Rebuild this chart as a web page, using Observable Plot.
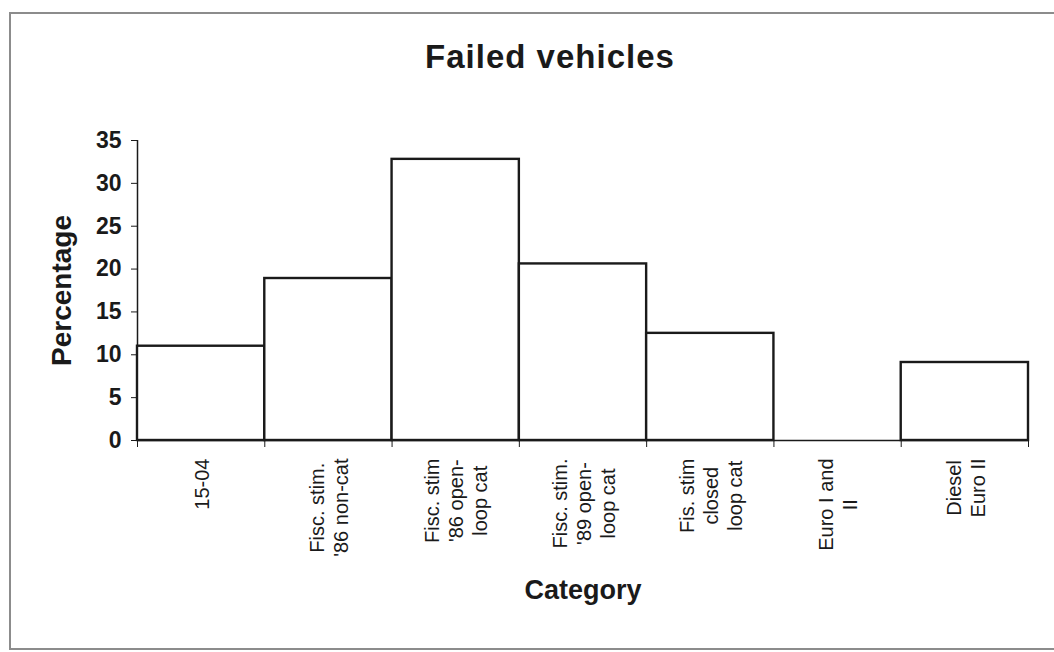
<!DOCTYPE html>
<html>
<head>
<meta charset="utf-8">
<script src="https://cdn.jsdelivr.net/npm/d3@7"></script>
<script src="https://cdn.jsdelivr.net/npm/@observablehq/plot@0.6"></script>
<style>
  html, body { margin: 0; padding: 0; background: #fff; }
  body { width: 1054px; height: 652px; overflow: hidden; position: relative;
         font-family: "Liberation Sans", Arial, Helvetica, sans-serif; color: #1a1a1a; }
  #frame { position: absolute; left: 9px; top: 12px; width: 1100px; height: 638px;
           border: 2px solid #8c8c8c; border-right: none; box-sizing: border-box; }
  #title { position: absolute; left: 350px; width: 400px; top: 40px; text-align: center;
           font-size: 33px; line-height: 33px; font-weight: bold; letter-spacing: 1px; }
  #chart { position: absolute; left: 0; top: 100px; }
  g[aria-label="category-label"] text { letter-spacing: 1.7px; }
  g[aria-label="percentage-label"] text { letter-spacing: 2px; }
</style>
</head>
<body>
<div id="frame"></div>
<div id="title">Failed vehicles</div>
<div id="chart"></div>
<script>
const categories = [
  "15-04",
  "Fisc. stim.\n'86 non-cat",
  "Fisc. stim\n'86 open-\nloop cat",
  "Fisc. stim.\n'89 open-\nloop cat",
  "Fis. stim\nclosed\nloop cat",
  "Euro I and\nII",
  "Diesel\nEuro II"
];
const percentages = [11, 18.9, 32.8, 20.6, 12.5, 0, 9.1];
const yTicks = [0, 5, 10, 15, 20, 25, 30, 35];
const yLabel = "Percentage";
const xLabel = "Category";

const data = categories.map((c, i) => ({ i, c, v: percentages[i] }));
const bounds = d3.range(categories.length + 1);

const ink = "#1a1a1a";
const fontFamily = '"Liberation Sans", Arial, Helvetica, sans-serif';
const labelSize = 20;

// measure the longest line of each label so lines can be centred within a block that starts just below the axis
const ctx = document.createElement("canvas").getContext("2d");
ctx.font = `${labelSize}px ${fontFamily}`;
const longest = c => d3.max(c.split("\n"), s => ctx.measureText(s).width);

const labelMarks = data.map(d =>
  Plot.text([d], {
    x: e => e.i + 0.5, y: () => 0, text: "c", rotate: -90, textAnchor: "middle",
    dy: 18 + longest(d.c) / 2, fontSize: labelSize, lineHeight: 1.2, fill: ink
  })
);

const chart = Plot.plot({
  width: 1054,
  height: 552,
  marginTop: 40,
  marginBottom: 212,
  marginLeft: 137,
  marginRight: 26,
  style: { fontFamily, color: ink, background: "transparent", overflow: "visible" },
  x: { domain: [0, categories.length], axis: null },
  y: { domain: [0, 35], axis: null },
  marks: [
    Plot.axisY({ ticks: yTicks, tickSize: 6, tickPadding: 10, fontSize: 23, fontWeight: "bold", label: null, tickFormat: d => String(d), stroke: ink }),
    Plot.axisX({ ticks: bounds, tickSize: 7, tickFormat: () => "", label: null, stroke: ink }),
    Plot.ruleX([0], { stroke: ink, strokeWidth: 1.5 }),
    Plot.ruleY([0], { stroke: ink, strokeWidth: 1.5 }),
    Plot.rectY(data, { x1: "i", x2: d => d.i + 1, y1: 0, y2: "v", fill: "white", stroke: ink, strokeWidth: 2.4 }),
    ...labelMarks,
    Plot.text([xLabel], { text: d => d, frameAnchor: "bottom", lineAnchor: "middle", textAnchor: "middle", dy: 150, fontSize: 27, fontWeight: "bold", fill: ink, ariaLabel: "category-label" }),
    Plot.text([yLabel], { text: d => d, frameAnchor: "left", textAnchor: "middle", lineAnchor: "middle", dx: -75, rotate: -90, fontSize: 28, fontWeight: "bold", fill: ink, ariaLabel: "percentage-label" })
  ]
});
document.getElementById("chart").appendChild(chart);
</script>
</body>
</html>
